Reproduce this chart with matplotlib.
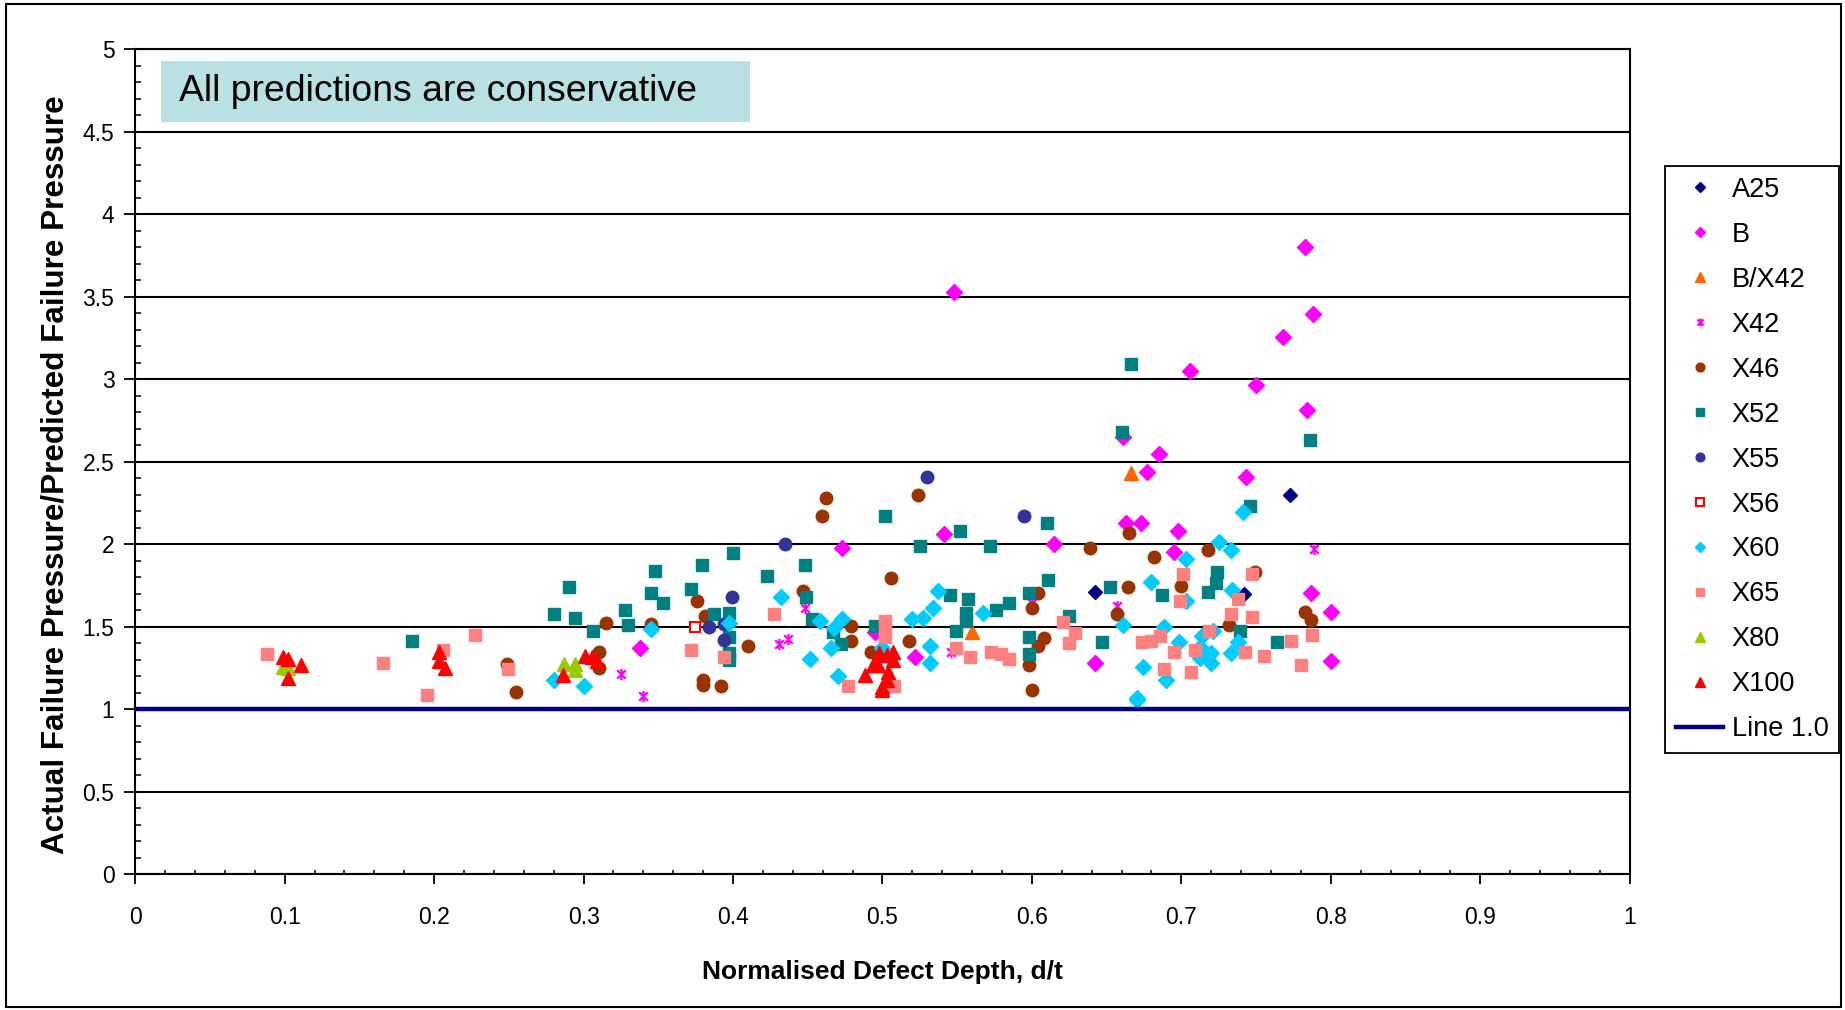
import numpy as np
import matplotlib
matplotlib.use('Agg')
import matplotlib.pyplot as plt
from matplotlib.path import Path
from matplotlib.patches import Rectangle
from matplotlib.ticker import MultipleLocator

plt.rcParams['font.family'] = ['Liberation Sans', 'DejaVu Sans']

# data: (d/t, ratio) per grade
a25_x = [0.642, 0.742, 0.773]
a25_y = [1.71, 1.70, 2.30]

b_x = [0.338, 0.473, 0.495, 0.522, 0.541, 0.548, 0.615, 0.642, 0.661, 0.663, 0.673,
       0.677, 0.685, 0.695, 0.698, 0.706, 0.743, 0.750, 0.768, 0.783, 0.784, 0.787,
       0.788, 0.800, 0.800]
b_y = [1.37, 1.98, 1.47, 1.315, 2.06, 3.527, 2.00, 1.28, 2.652, 2.131, 2.131,
       2.44, 2.55, 1.955, 2.083, 3.05, 2.406, 2.964, 3.256, 3.80, 2.814, 1.703,
       3.398, 1.592, 1.293]

bx42_x = [0.560, 0.666]
bx42_y = [1.47, 2.43]

x42_x = [0.325, 0.340, 0.431, 0.437, 0.448, 0.546, 0.600, 0.657, 0.789]
x42_y = [1.212, 1.083, 1.394, 1.428, 1.612, 1.349, 1.646, 1.628, 1.97]

x46_x = [0.249, 0.255, 0.310, 0.310, 0.315, 0.345, 0.376, 0.381, 0.380, 0.380,
         0.392, 0.410, 0.447, 0.4595, 0.462, 0.479, 0.479, 0.492, 0.5055, 0.518,
         0.524, 0.598, 0.600, 0.600, 0.604, 0.604, 0.608, 0.639, 0.657, 0.664,
         0.665, 0.6815, 0.700, 0.718, 0.732, 0.7495, 0.783, 0.787]
x46_y = [1.275, 1.107, 1.349, 1.252, 1.523, 1.515, 1.658, 1.567, 1.178, 1.15,
         1.141, 1.384, 1.719, 2.173, 2.279, 1.507, 1.416, 1.349, 1.798, 1.416,
         2.299, 1.268, 1.117, 1.612, 1.385, 1.707, 1.43, 1.98, 1.578, 1.739,
         2.07, 1.921, 1.747, 1.966, 1.509, 1.83, 1.592, 1.541]

x52_x = [0.185, 0.280, 0.290, 0.294, 0.306, 0.328, 0.330, 0.345, 0.348, 0.353,
         0.372, 0.379, 0.387, 0.3975, 0.3975, 0.3975, 0.3975, 0.400, 0.423, 0.448,
         0.449, 0.453, 0.467, 0.472, 0.495, 0.502, 0.525, 0.545, 0.549, 0.552,
         0.556, 0.556, 0.557, 0.572, 0.576, 0.585, 0.598, 0.598, 0.598, 0.610,
         0.611, 0.625, 0.647, 0.652, 0.660, 0.6665, 0.687, 0.718, 0.723, 0.724,
         0.739, 0.746, 0.764, 0.786]
x52_y = [1.416, 1.578, 1.739, 1.555, 1.474, 1.60, 1.509, 1.703, 1.84, 1.646,
         1.727, 1.875, 1.578, 1.582, 1.44, 1.339, 1.30, 1.945, 1.808, 1.875,
         1.681, 1.545, 1.47, 1.396, 1.507, 2.173, 1.99, 1.693, 1.476, 2.08,
         1.582, 1.535, 1.669, 1.99, 1.60, 1.646, 1.703, 1.44, 1.335, 2.127,
         1.784, 1.566, 1.406, 1.739, 2.68, 3.093, 1.693, 1.713, 1.764, 1.83,
         1.475, 2.232, 1.406, 2.635]

x55_x = [0.384, 0.394, 0.394, 0.399, 0.435, 0.530, 0.595]
x55_y = [1.50, 1.52, 1.42, 1.68, 2.00, 2.41, 2.17]

x56_x = [0.3745]
x56_y = [1.497]

x60_x = [0.280, 0.300, 0.345, 0.397, 0.432, 0.4515, 0.458, 0.4655, 0.4675, 0.470,
         0.473, 0.500, 0.5195, 0.527, 0.532, 0.532, 0.534, 0.537, 0.5675, 0.661,
         0.670, 0.670, 0.6745, 0.680, 0.6886, 0.6895, 0.6986, 0.703, 0.7033, 0.7125,
         0.7125, 0.7136, 0.7196, 0.7196, 0.7214, 0.725, 0.733, 0.733, 0.7337, 0.7377,
         0.741]
x60_y = [1.178, 1.143, 1.487, 1.521, 1.683, 1.303, 1.537, 1.373, 1.491, 1.202,
         1.545, 1.373, 1.545, 1.555, 1.384, 1.279, 1.612, 1.717, 1.582, 1.511,
         1.055, 1.07, 1.258, 1.77, 1.50, 1.178, 1.41, 1.656, 1.911, 1.38,
         1.309, 1.446, 1.339, 1.279, 1.477, 2.016, 1.339, 1.966, 1.723, 1.41,
         2.198]

x65_x = [0.088, 0.1655, 0.195, 0.206, 0.2275, 0.2496, 0.372, 0.394, 0.4276, 0.477,
         0.502, 0.502, 0.502, 0.508, 0.549, 0.5586, 0.5724, 0.579, 0.585, 0.6206,
         0.625, 0.629, 0.6734, 0.680, 0.686, 0.6886, 0.6953, 0.699, 0.701, 0.7066,
         0.709, 0.7183, 0.733, 0.7377, 0.7426, 0.747, 0.747, 0.755, 0.7733, 0.780,
         0.7874]
x65_y = [1.337, 1.279, 1.085, 1.36, 1.45, 1.244, 1.36, 1.315, 1.578, 1.143,
         1.537, 1.49, 1.44, 1.141, 1.373, 1.315, 1.349, 1.335, 1.303, 1.531,
         1.404, 1.464, 1.406, 1.416, 1.444, 1.244, 1.349, 1.658, 1.818, 1.224,
         1.36, 1.475, 1.578, 1.668, 1.349, 1.818, 1.558, 1.325, 1.416, 1.268,
         1.45]

x80_x = [0.0986, 0.102, 0.287, 0.294, 0.294]
x80_y = [1.258, 1.25, 1.275, 1.275, 1.24]

x100_x = [0.0986, 0.102, 0.111, 0.102, 0.2035, 0.2035, 0.207, 0.286, 0.301, 0.3054,
          0.3088, 0.488, 0.494, 0.497, 0.498, 0.503, 0.507, 0.507, 0.504, 0.503,
          0.500, 0.4995]
x100_y = [1.315, 1.305, 1.267, 1.188, 1.35, 1.295, 1.252, 1.208, 1.325, 1.315,
          1.295, 1.208, 1.268, 1.268, 1.339, 1.329, 1.349, 1.299, 1.228, 1.178,
          1.137, 1.117]

line_x = [0, 1]
line_y = [1.0, 1.0]

x_ticks = [0, 0.1, 0.2, 0.3, 0.4, 0.5, 0.6, 0.7, 0.8, 0.9, 1]
x_labels = ['0', '0.1', '0.2', '0.3', '0.4', '0.5', '0.6', '0.7', '0.8', '0.9', '1']
y_ticks = [0, 0.5, 1, 1.5, 2, 2.5, 3, 3.5, 4, 4.5, 5]
y_labels = ['0', '0.5', '1', '1.5', '2', '2.5', '3', '3.5', '4', '4.5', '5']

# Excel style star: an x with a vertical bar
star = Path([(-1, -1), (1, 1), (-1, 1), (1, -1), (0, -1.3), (0, 1.3)],
            [Path.MOVETO, Path.LINETO, Path.MOVETO, Path.LINETO, Path.MOVETO, Path.LINETO])

fig = plt.figure(figsize=(18.45, 10.1), dpi=100)
ax = fig.add_axes([0.0733, 0.1344, 0.81, 0.8166])

series = [
    ('A25', a25_x, a25_y, dict(marker='D', color='#000080', ms=7)),
    ('B', b_x, b_y, dict(marker='D', color='#ff00ff', ms=8)),
    ('B/X42', bx42_x, bx42_y, dict(marker='^', color='#ff6600', ms=10)),
    ('X42', x42_x, x42_y, dict(marker=star, color='#ff00ff', ms=8, mfc='none', mew=1.6)),
    ('X46', x46_x, x46_y, dict(marker='o', color='#993300', ms=9)),
    ('X52', x52_x, x52_y, dict(marker='s', color='#008080', ms=8.5)),
    ('X55', x55_x, x55_y, dict(marker='o', color='#333399', ms=9)),
    ('X56', x56_x, x56_y, dict(marker='s', color='#ff0000', ms=7.5, mfc='white', mew=1.5)),
    ('X60', x60_x, x60_y, dict(marker='D', color='#00ccff', ms=8)),
    ('X65', x65_x, x65_y, dict(marker='s', color='#ff8080', ms=8.5)),
    ('X80', x80_x, x80_y, dict(marker='^', color='#99cc00', ms=10)),
    ('X100', x100_x, x100_y, dict(marker='^', color='#ff0000', ms=10)),
]

handles = []
for name, xs, ys, st in series:
    h, = ax.plot(xs, ys, linestyle='none', label=name, mec=st['color'], **st)
    handles.append(h)

hl, = ax.plot(line_x, line_y, color='#000080', lw=3.2, label='Line 1.0', zorder=5)
handles.append(hl)

ax.set_xlim(0, 1)
ax.set_ylim(0, 5)
ax.set_xticks(x_ticks)
ax.set_xticklabels(x_labels)
ax.set_yticks(y_ticks)
ax.set_yticklabels(y_labels)
ax.xaxis.set_minor_locator(MultipleLocator(0.02))
ax.yaxis.set_minor_locator(MultipleLocator(0.1))
ax.tick_params(axis='x', which='major', direction='out', length=7, width=1.3, pad=16, labelsize=16.5)
ax.tick_params(axis='y', which='major', direction='out', length=8, width=1.3, pad=7, labelsize=16.5)
ax.tick_params(axis='x', which='minor', direction='in', length=3, width=1.1)
ax.tick_params(axis='y', which='minor', direction='in', length=4.5, width=1.1)
ax.grid(axis='y', which='major', color='black', lw=1.5)
ax.set_axisbelow(True)
for s in ax.spines.values():
    s.set_linewidth(1.5)

ax.set_xlabel('Normalised Defect Depth, d/t', fontsize=19, fontweight='bold', labelpad=22)
ax.set_ylabel('Actual Failure Pressure/Predicted Failure Pressure', fontsize=22.6,
              fontweight='bold', labelpad=9, y=0.484)

ax.add_patch(Rectangle((0.0172, 0.912), 0.394, 0.074, transform=ax.transAxes,
                       facecolor='#b9e1e4', edgecolor='none', zorder=6))
ax.text(0.029, 0.949, 'All predictions are conservative', transform=ax.transAxes,
        fontsize=26.9, va='center', ha='left', zorder=7)

leg = fig.legend(handles=handles, loc='center', bbox_to_anchor=(0.9497, 0.545),
                 fontsize=19.5, frameon=True, fancybox=False, edgecolor='black',
                 framealpha=1, labelspacing=0.70, handlelength=1.75, markerscale=0.7,
                 borderpad=0.4, handletextpad=0.3, borderaxespad=0)
leg.get_frame().set_linewidth(1.3)

fig.add_artist(Rectangle((0.003, 0.003), 0.995, 0.993, transform=fig.transFigure,
                         facecolor='none', edgecolor='black', lw=1.5))

fig.savefig('out.png', dpi=100)
